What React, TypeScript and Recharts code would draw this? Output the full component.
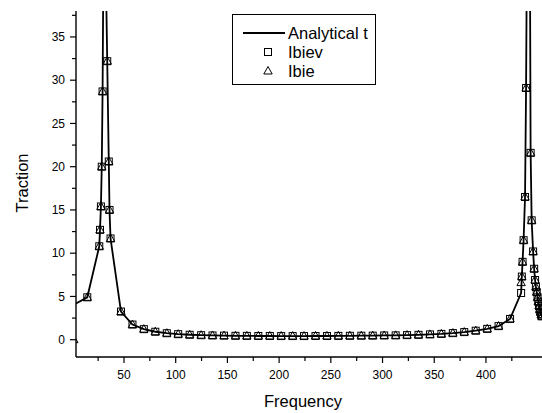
import { ComposedChart, Line, XAxis, YAxis, Label } from 'recharts'

const FONT = 'Arial, "Liberation Sans", Helvetica, sans-serif'

// frequencies where the BIE solutions were sampled
const FREQ = [
  14.5, 26.1, 26.8, 27.7, 28.5, 29.3, 33.8, 35.3, 36.0, 37.0,
  47.1, 58.2, 69.2, 80.3, 91.4, 102.4, 113.5, 124.6, 135.6, 146.7,
  157.8, 168.8, 179.9, 191.0, 202.0, 213.1, 224.1, 235.2, 246.3, 257.3,
  268.4, 279.5, 290.5, 301.6, 312.7, 323.7, 334.8, 345.9, 356.9, 368.0,
  379.0, 390.1, 401.2, 412.2, 423.3, 434.0, 434.7, 435.4, 436.4, 437.8,
  438.8, 443.2, 444.2, 445.6, 446.6, 447.5, 448.3, 449.1, 449.9, 450.6,
  451.3, 452.0, 452.7, 453.4, 454.1,
]

const IBIEV = [
  4.9, 10.8, 12.7, 15.4, 20.0, 28.7, 32.2, 20.6, 15.0, 11.7,
  3.25, 1.75, 1.22, 0.92, 0.75, 0.64, 0.57, 0.52, 0.49, 0.47,
  0.45, 0.44, 0.43, 0.43, 0.42, 0.42, 0.42, 0.43, 0.43, 0.44,
  0.45, 0.46, 0.47, 0.49, 0.5, 0.53, 0.56, 0.61, 0.67, 0.76,
  0.88, 1.04, 1.25, 1.57, 2.4, 5.4, 7.3, 9.0, 11.5, 16.5,
  29.1, 21.6, 13.8, 10.2, 8.2, 6.9, 6.1, 5.5, 4.9, 4.4,
  3.9, 3.5, 3.2, 2.9, 2.7,
]

const IBIE = [
  4.9, 10.8, 12.7, 15.4, 20.0, 28.7, 32.2, 20.6, 15.0, 11.7,
  3.25, 1.75, 1.22, 0.92, 0.75, 0.64, 0.57, 0.52, 0.49, 0.47,
  0.45, 0.44, 0.43, 0.43, 0.42, 0.42, 0.42, 0.43, 0.43, 0.44,
  0.45, 0.46, 0.47, 0.49, 0.5, 0.53, 0.56, 0.61, 0.67, 0.76,
  0.88, 1.04, 1.25, 1.57, 2.4, 6.6, 7.3, 9.0, 11.5, 16.5,
  29.1, 21.6, 13.8, 10.2, 8.2, 6.9, 6.1, 5.5, 4.9, 4.4,
  3.9, 3.5, 3.2, 2.9, 2.7,
]
// half-hidden triangle sitting on the left axis
const IBIE_EDGE = { f: 1.5, v: 0 }

const ANALYTICAL_FREQ = [
  3.0, 14.5, 26.1, 26.8, 27.7, 28.5, 29.3, 30.2, 31.4, 32.5,
  33.8, 35.3, 36.0, 37.0, 47.1, 58.2, 69.2, 80.3, 91.4, 102.4,
  113.5, 124.6, 135.6, 146.7, 157.8, 168.8, 179.9, 191.0, 202.0, 213.1,
  224.1, 235.2, 246.3, 257.3, 268.4, 279.5, 290.5, 301.6, 312.7, 323.7,
  334.8, 345.9, 356.9, 368.0, 379.0, 390.1, 401.2, 412.2, 423.3, 434.0,
  434.7, 435.4, 436.4, 437.8, 438.8, 439.6, 441.3, 442.5, 443.2, 444.2,
  445.6, 446.6, 447.5, 448.3, 449.1, 449.9, 450.6, 451.3, 452.0, 452.7,
  453.4, 454.1, 460.0,
]
const ANALYTICAL = [
  4.15, 4.9, 10.8, 12.7, 15.4, 20.0, 28.7, 45, 300, 42,
  32.2, 20.6, 15.0, 11.7, 3.25, 1.75, 1.22, 0.92, 0.75, 0.64,
  0.57, 0.52, 0.49, 0.47, 0.45, 0.44, 0.43, 0.43, 0.42, 0.42,
  0.42, 0.43, 0.43, 0.44, 0.45, 0.46, 0.47, 0.49, 0.5, 0.53,
  0.56, 0.61, 0.67, 0.76, 0.88, 1.04, 1.25, 1.57, 2.4, 5.4,
  7.3, 9.0, 11.5, 16.5, 29.1, 45, 300, 45, 21.6, 13.8,
  10.2, 8.2, 6.9, 6.1, 5.5, 4.9, 4.4, 3.9, 3.5, 3.2,
  2.9, 2.7, 2.3,
]

const X_TICKS = [25, 50, 75, 100, 125, 150, 175, 200, 225, 250, 275, 300, 325, 350, 375, 400, 425]
const Y_TICKS = [0, 2.5, 5, 7.5, 10, 12.5, 15, 17.5, 20, 22.5, 25, 27.5, 30, 32.5, 35, 37.5]
const TOP_TICKS = [1, 2, 3, 4, 5, 6, 7, 8, 9, 10, 11, 12, 13, 14, 15, 16, 17]

const analyticalData = ANALYTICAL_FREQ.map((f, i) => ({ f, t: ANALYTICAL[i] }))
const ibievData = FREQ.map((f, i) => ({ f, v: IBIEV[i] }))
const ibieData = [IBIE_EDGE, ...FREQ.map((f, i) => ({ f, v: IBIE[i] }))]

const XTick = (p: any) => {
  const v = p.payload.value
  const major = v % 50 === 0
  return (
    <g>
      <line x1={p.x} x2={p.x} y1={p.y} y2={p.y + (major ? 6 : 4)} stroke="#000" strokeWidth={1.2} />
      {major && (
        <text x={p.x} y={p.y + 18} dy="0.35em" textAnchor="middle" fontSize={12} fontFamily={FONT} fill="#000">
          {v}
        </text>
      )}
    </g>
  )
}

const YTick = (p: any) => {
  const v = p.payload.value
  const major = v % 5 === 0
  return (
    <g>
      <line x1={p.x} x2={p.x - (major ? 6 : 4)} y1={p.y} y2={p.y} stroke="#000" strokeWidth={1.2} />
      {major && (
        <text x={p.x - 11} y={p.y} dy="0.35em" textAnchor="end" fontSize={12} fontFamily={FONT} fill="#000">
          {v}
        </text>
      )}
    </g>
  )
}

const TopTick = (p: any) => (
  <line x1={p.x} x2={p.x} y1={p.y} y2={p.y + 3} stroke="#000" strokeWidth={1} />
)

const Square = (p: any) => {
  if (p.cx == null || p.cy == null) return <g key={p.key} />
  return <rect key={p.key} x={p.cx - 3.5} y={p.cy - 3.5} width={7} height={7} fill="none" stroke="#000" strokeWidth={1} />
}

const Triangle = (p: any) => {
  if (p.cx == null || p.cy == null) return <g key={p.key} />
  const { cx, cy } = p
  return (
    <path key={p.key} d={`M${cx},${cy - 4.5}L${cx + 4.2},${cy + 3}L${cx - 4.2},${cy + 3}Z`} fill="none" stroke="#000" strokeWidth={1} />
  )
}

function LegendBox() {
  return (
    <svg width={144} height={71} style={{ position: 'absolute', left: 232, top: 14 }}>
      <rect x={0.5} y={0.5} width={143} height={70} fill="#fff" stroke="#000" strokeWidth={1} />
      <line x1={11} x2={53} y1={19} y2={19} stroke="#000" strokeWidth={1.8} />
      <rect x={32.5} y={34.5} width={7} height={7} fill="none" stroke="#000" />
      <path d="M36,52.5L40.2,60L31.8,60Z" fill="none" stroke="#000" />
      <g fontFamily={FONT} fontSize={16.5} fill="#000">
        <text x={56} y={19} dy="0.35em">Analytical t</text>
        <text x={56} y={38} dy="0.35em">Ibiev</text>
        <text x={56} y={57} dy="0.35em">Ibie</text>
      </g>
    </svg>
  )
}

export default function App() {
  return (
    <div style={{ position: 'absolute', left: 0, top: 0, width: 542, height: 413, overflow: 'hidden', background: '#fff' }}>
      <ComposedChart width={560} height={413} margin={{ top: 11, right: 12, left: 0, bottom: 0 }}>
        <XAxis
          xAxisId="b"
          dataKey="f"
          type="number"
          domain={[3.6, 460]}
          allowDataOverflow
          ticks={X_TICKS}
          interval={0}
          height={56}
          tickSize={0}
          tickMargin={0}
          tickLine={false}
          tick={<XTick />}
          axisLine={{ stroke: '#000', strokeWidth: 1.4 }}
        >
          <Label
            content={() => (
              <text x={303} y={407} textAnchor="middle" fontSize={16.5} fontFamily={FONT} fill="#000">
                Frequency
              </text>
            )}
          />
        </XAxis>
        <XAxis
          xAxisId="top"
          orientation="top"
          dataKey="f"
          type="number"
          domain={[0, 17.6]}
          allowDataOverflow
          ticks={TOP_TICKS}
          interval={0}
          height={0}
          tickSize={0}
          tickMargin={0}
          tickLine={false}
          tick={<TopTick />}
          axisLine={{ stroke: '#000', strokeWidth: 1.4 }}
        />
        <YAxis
          type="number"
          domain={[-2, 38]}
          allowDataOverflow
          ticks={Y_TICKS}
          interval={0}
          width={76}
          tickSize={0}
          tickMargin={0}
          tickLine={false}
          tick={<YTick />}
          axisLine={{ stroke: '#000', strokeWidth: 1.4 }}
        >
          <Label
            content={() => (
              <text x={22} y={183} transform="rotate(-90 22 183)" dy="0.35em" textAnchor="middle" fontSize={16.5} fontFamily={FONT} fill="#000">
                Traction
              </text>
            )}
          />
        </YAxis>
        <Line
          xAxisId="b"
          data={analyticalData}
          dataKey="t"
          type="linear"
          stroke="#000"
          strokeWidth={1.8}
          dot={false}
          activeDot={false}
          isAnimationActive={false}
        />
        <Line
          xAxisId="b"
          data={ibievData}
          dataKey="v"
          stroke="none"
          dot={Square}
          activeDot={false}
          isAnimationActive={false}
        />
        <Line
          xAxisId="b"
          data={ibieData}
          dataKey="v"
          stroke="none"
          dot={Triangle}
          activeDot={false}
          isAnimationActive={false}
        />
      </ComposedChart>
      <LegendBox />
    </div>
  )
}
